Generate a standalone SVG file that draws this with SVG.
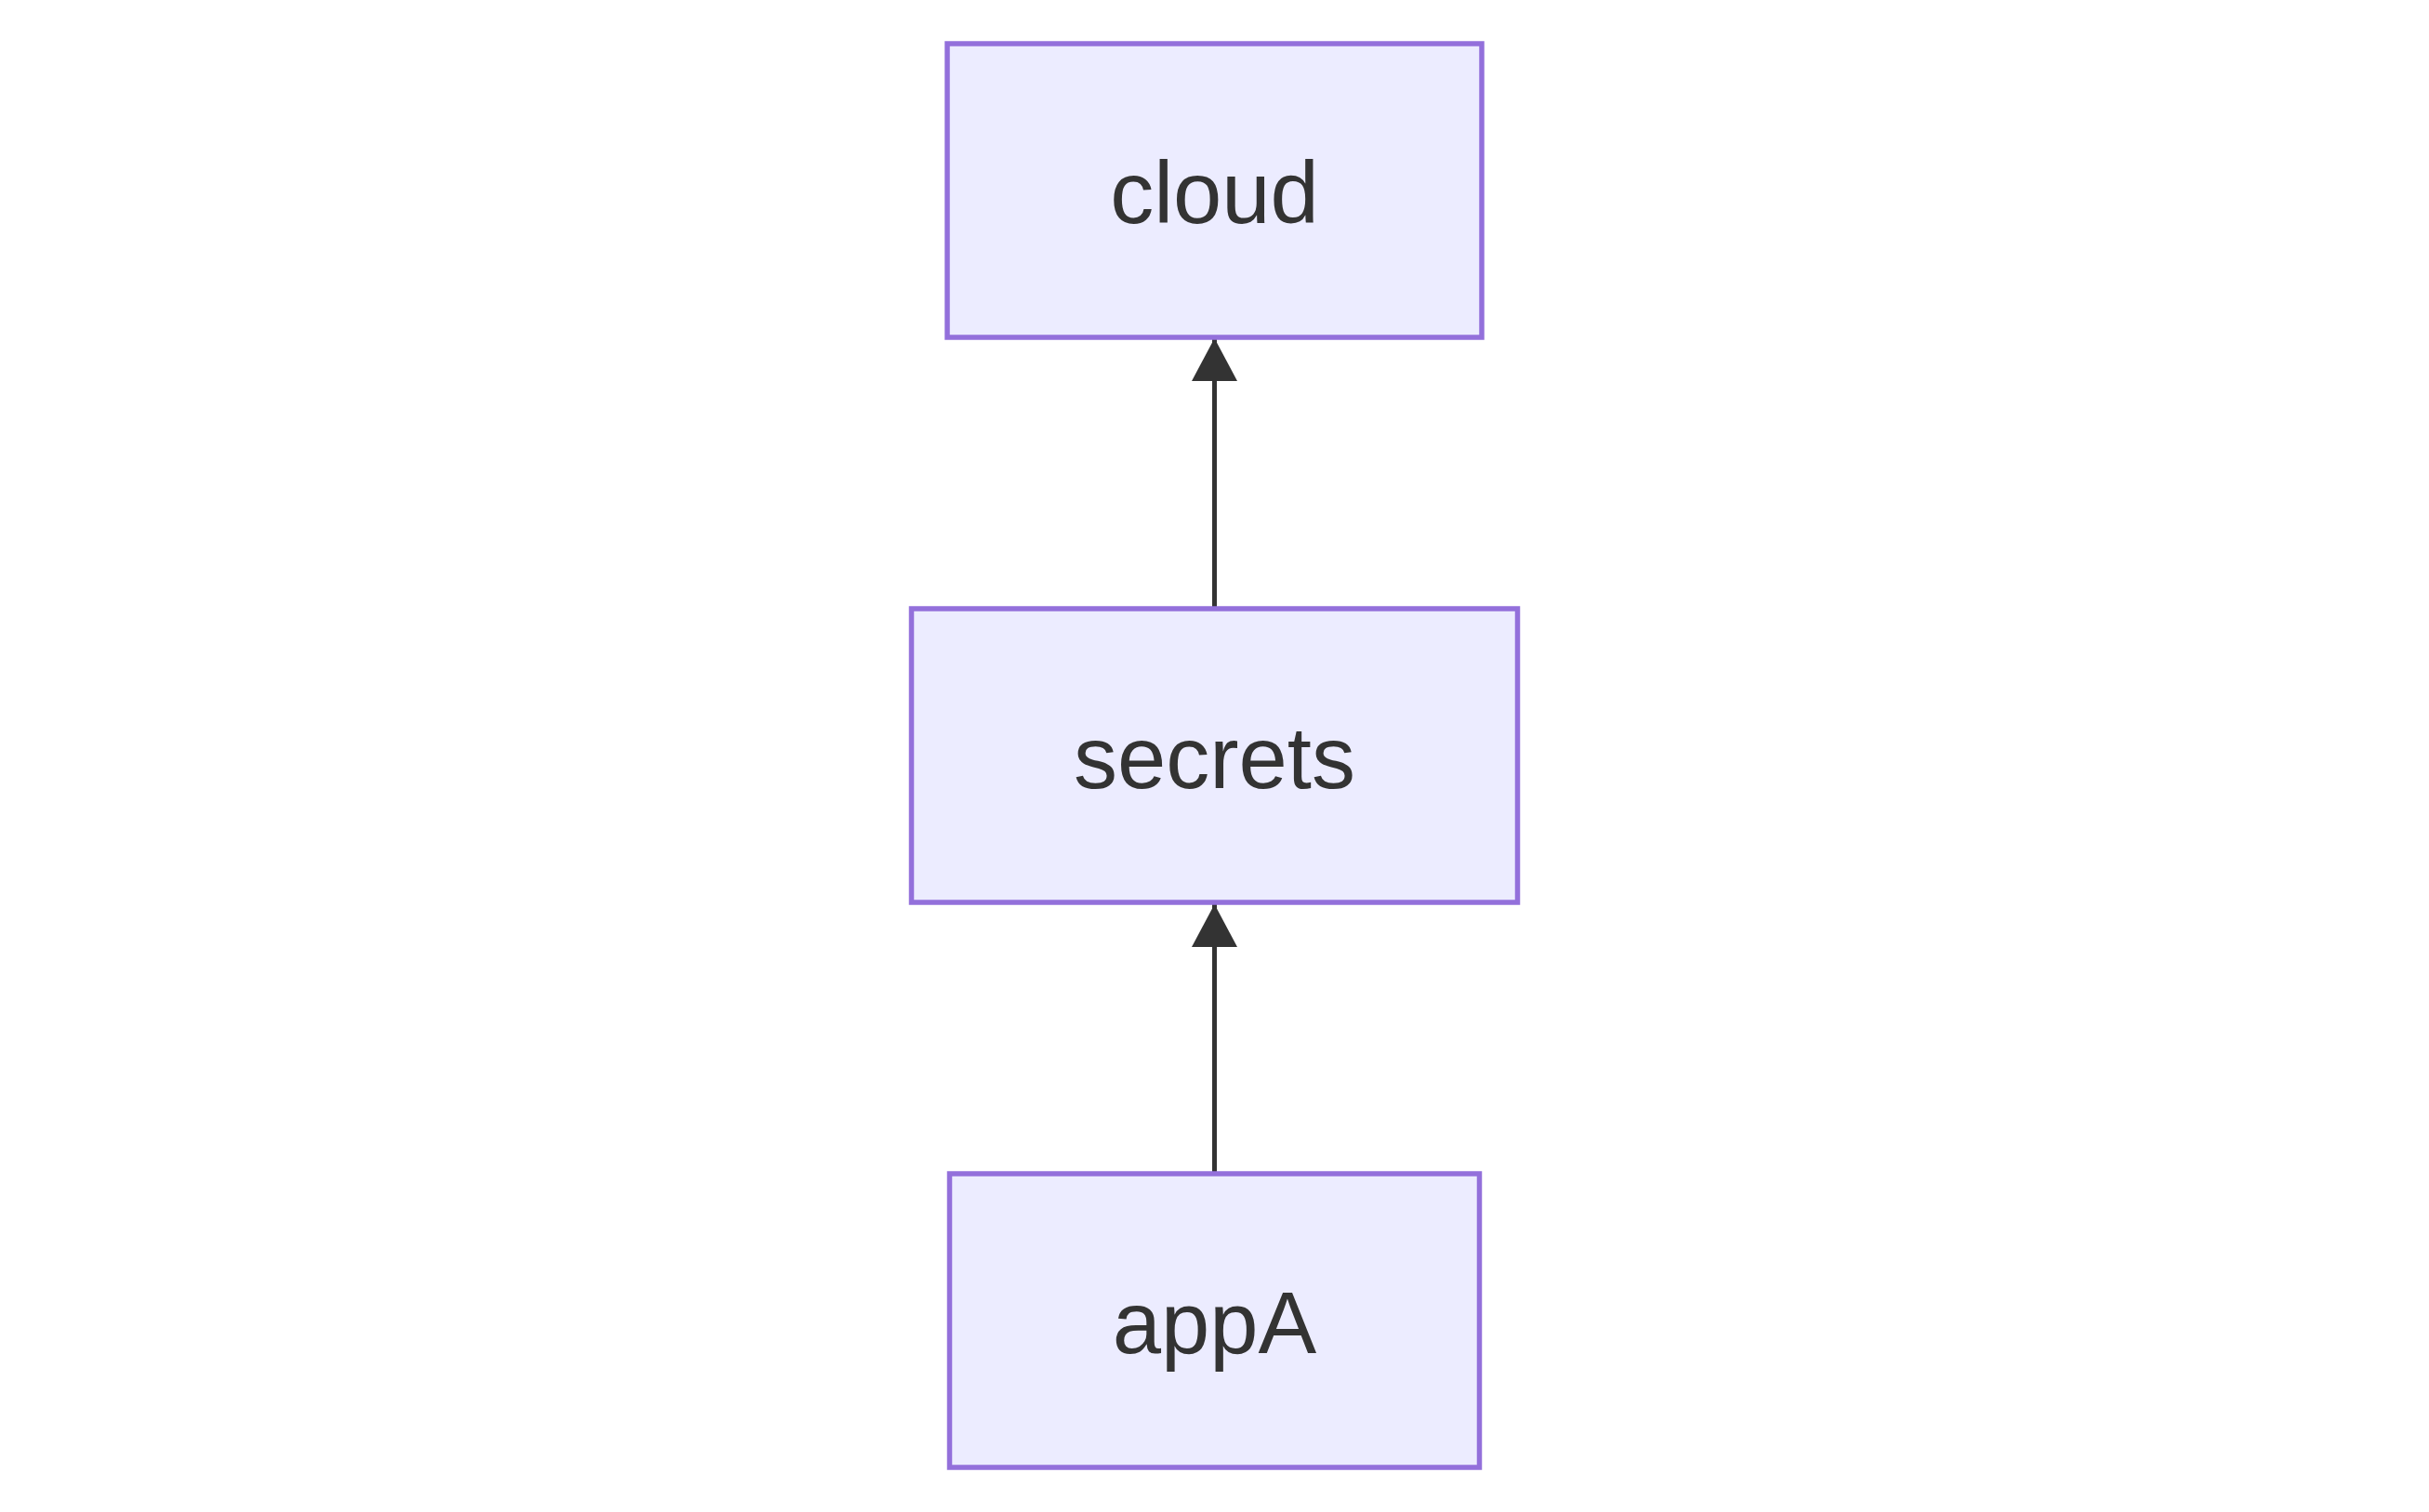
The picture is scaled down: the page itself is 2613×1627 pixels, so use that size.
<svg xmlns="http://www.w3.org/2000/svg" width="2613" height="1627" viewBox="0 0 2613 1627">
<style>
.node rect{fill:#ECECFF;stroke:#9370DB;stroke-width:5.5px}
.node text{font-family:"Liberation Sans",Arial,sans-serif;font-size:94px;fill:#333333;text-anchor:middle;dominant-baseline:central}
.edge{stroke:#333333;stroke-width:5px;fill:none}
</style>
<defs>
<marker id="arrow" markerUnits="userSpaceOnUse" markerWidth="50" markerHeight="50" refX="46" refY="24.5" orient="auto">
<path d="M0,0 L46,24.5 L0,49 Z" fill="#333333"/>
</marker>
</defs>
<rect width="2613" height="1627" fill="#ffffff"/>
<g id="connectors">
<path class="edge" d="M1306.5,655 L1306.5,364" marker-end="url(#arrow)"/>
<path class="edge" d="M1306.5,1263 L1306.5,973" marker-end="url(#arrow)"/>
</g>
<g id="cloud" class="node">
<rect x="1019" y="47" width="575" height="316"/>
<text x="1306.5" y="207">cloud</text>
</g>
<g id="secrets" class="node">
<rect x="980.5" y="655" width="652" height="316"/>
<text x="1306.5" y="815">secrets</text>
</g>
<g id="appA" class="node">
<rect x="1021.5" y="1263" width="570" height="316"/>
<text x="1306.5" y="1423">appA</text>
</g>
</svg>
